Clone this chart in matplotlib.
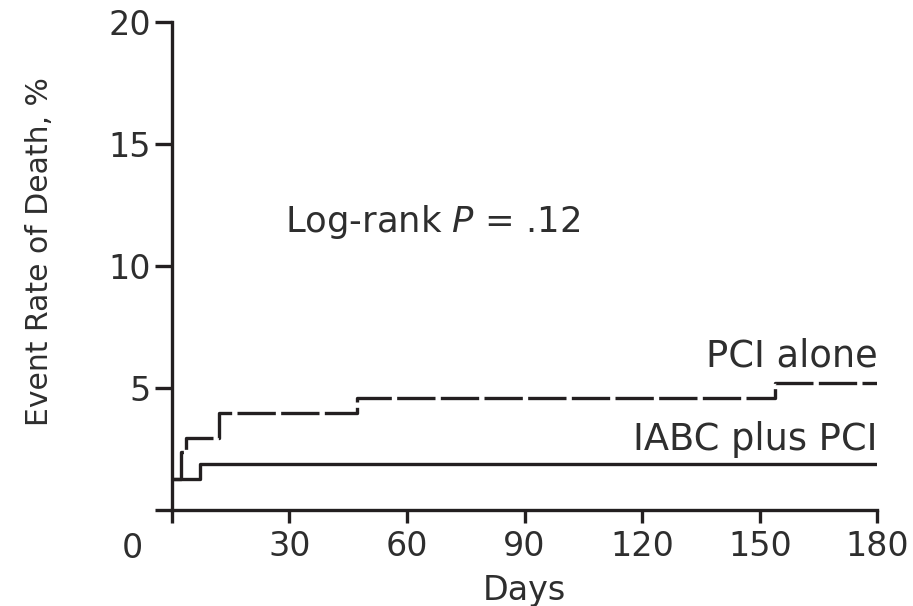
import numpy as np
import matplotlib
matplotlib.use('Agg')
import matplotlib.pyplot as plt

# step curves (days, event rate %)
iabc_days = [0, 7.2, 180]
iabc_rate = [1.3, 1.9, 1.9]
pci_days = [0, 2.3, 3.6, 12, 47.4, 154, 180]
pci_rate = [1.3, 2.4, 2.95, 4.0, 4.6, 5.2, 5.2]

x_ticks = [0, 30, 60, 90, 120, 150, 180]
y_ticks = [0, 5, 10, 15, 20]

ink = '#231f20'
txt = '#2e2e2e'
plt.rcParams['font.family'] = ['DejaVu Sans']

fig = plt.figure(figsize=(9.13, 6.06), dpi=100)
ax = fig.add_axes([0.188, 0.158, 0.773, 0.806])

ax.step(iabc_days, iabc_rate, where='post', color=ink, lw=2.4)
ax.step(pci_days, pci_rate, where='post', color=ink, lw=2.4, dashes=(11.5, 1.6))

ax.set_xlim(0, 180)
ax.set_ylim(0, 20)
ax.set_xticks(x_ticks)
ax.set_xticklabels([''] + [str(t) for t in x_ticks[1:]])
ax.set_yticks(y_ticks)
ax.set_yticklabels([''] + [str(t) for t in y_ticks[1:]])

for s in ['top', 'right']:
    ax.spines[s].set_visible(False)
for s in ['left', 'bottom']:
    ax.spines[s].set_linewidth(2.4)
    ax.spines[s].set_color(ink)

ax.tick_params(axis='x', length=9, width=2.4, color=ink, pad=5, labelsize=24, labelcolor=txt)
ax.tick_params(axis='y', length=12, width=2.4, color=ink, pad=3, labelsize=24, labelcolor=txt)

# shared corner zero
ax.text(-0.055, -0.045, '0', transform=ax.transAxes, ha='center', va='top',
        fontsize=24, color=txt)

ax.set_xlabel('Days', fontsize=24, color=txt, labelpad=8)
ax.set_ylabel('Event Rate of Death, %', fontsize=21.5, color=txt)
ax.yaxis.set_label_coords(-0.167, 0.53)

ax.text(0.16, 0.59, 'Log-rank $\\it{P}$ = .12', transform=ax.transAxes,
        fontsize=25.5, color=txt, ha='left', va='center')
ax.text(180, 6.3, 'PCI alone', fontsize=26.5, color=txt, ha='right', va='center')
ax.text(180, 2.9, 'IABC plus PCI', fontsize=26.5, color=txt, ha='right', va='center')

fig.savefig('out.png', dpi=100)
